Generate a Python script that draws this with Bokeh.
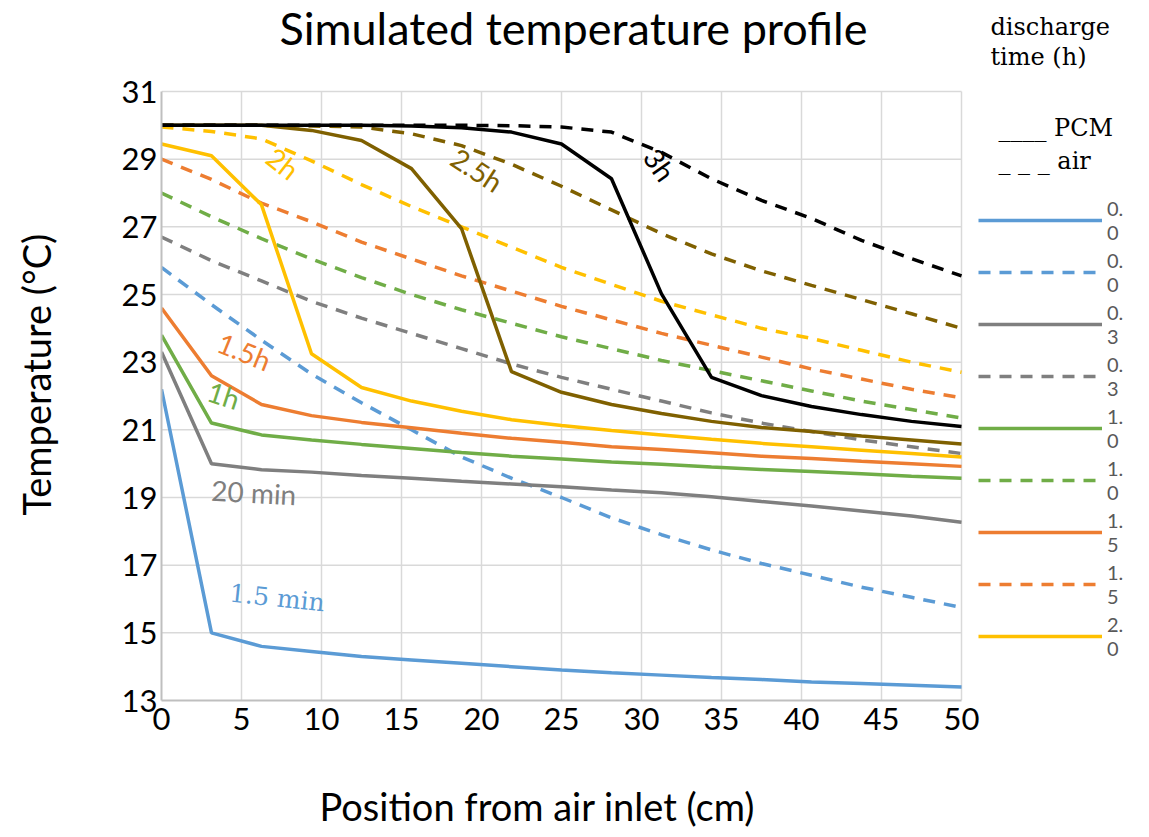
from bokeh.plotting import figure
from bokeh.models import Range1d, FixedTicker, Label, Legend, LegendItem, LinearAxis, Title
from bokeh.embed import file_html
from bokeh.resources import INLINE

# ---------------- data ----------------
position_cm = [0, 3.125, 6.25, 9.375, 12.5, 15.625, 18.75, 21.875, 25,
               28.125, 31.25, 34.375, 37.5, 40.625, 43.75, 46.875, 50]

pcm_0_0 = [22.2, 15.0, 14.6, 14.45, 14.3, 14.2, 14.1, 14.0, 13.9, 13.82, 13.75, 13.68, 13.62, 13.55, 13.5, 13.45, 13.4]
air_0_0 = [25.8, 24.7, 23.65, 22.65, 21.8, 21.0, 20.2, 19.57, 19.0, 18.4, 17.9, 17.45, 17.05, 16.7, 16.35, 16.05, 15.75]
pcm_0_3 = [23.3, 20.0, 19.82, 19.75, 19.65, 19.57, 19.48, 19.4, 19.32, 19.22, 19.14, 19.02, 18.88, 18.75, 18.6, 18.45, 18.27]
air_0_3 = [26.7, 26.0, 25.4, 24.8, 24.3, 23.85, 23.4, 22.95, 22.55, 22.2, 21.85, 21.5, 21.2, 20.95, 20.7, 20.5, 20.3]
pcm_1_0 = [23.8, 21.2, 20.85, 20.7, 20.57, 20.45, 20.33, 20.22, 20.14, 20.05, 19.98, 19.9, 19.83, 19.77, 19.7, 19.63, 19.57]
air_1_0 = [28.0, 27.3, 26.65, 26.05, 25.5, 25.0, 24.55, 24.15, 23.75, 23.4, 23.05, 22.75, 22.45, 22.15, 21.85, 21.6, 21.35]
pcm_1_5 = [24.6, 22.6, 21.75, 21.42, 21.22, 21.06, 20.9, 20.75, 20.63, 20.5, 20.42, 20.32, 20.22, 20.15, 20.07, 20.0, 19.92]
air_1_5 = [29.0, 28.4, 27.7, 27.15, 26.55, 26.05, 25.55, 25.1, 24.65, 24.25, 23.85, 23.5, 23.15, 22.8, 22.5, 22.2, 21.95]
pcm_2_0 = [29.45, 29.1, 27.65, 23.25, 22.25, 21.85, 21.55, 21.3, 21.13, 20.98, 20.85, 20.72, 20.6, 20.5, 20.4, 20.3, 20.2]
air_2_0 = [29.95, 29.82, 29.6, 28.95, 28.25, 27.6, 27.0, 26.4, 25.8, 25.3, 24.8, 24.4, 24.0, 23.7, 23.35, 23.0, 22.7]
pcm_2_5 = [30.0, 30.0, 30.0, 29.85, 29.55, 28.72, 26.95, 22.72, 22.11, 21.75, 21.48, 21.25, 21.07, 20.95, 20.82, 20.7, 20.58]
air_2_5 = [30.0, 30.0, 30.0, 29.98, 29.95, 29.75, 29.4, 28.85, 28.2, 27.5, 26.8, 26.2, 25.7, 25.27, 24.85, 24.43, 24.0]
pcm_3_0 = [30.0, 30.0, 30.0, 30.0, 30.0, 29.98, 29.93, 29.8, 29.45, 28.42, 25.02, 22.55, 22.01, 21.69, 21.45, 21.25, 21.1]
air_3_0 = [30.0, 30.0, 30.0, 30.0, 30.0, 30.0, 30.0, 29.99, 29.95, 29.8, 29.2, 28.42, 27.78, 27.25, 26.6, 26.06, 25.55]

series_names = ["0.\n0", "0.\n0", "0.\n3", "0.\n3", "1.\n0", "1.\n0", "1.\n5", "1.\n5", "2.\n0", "2.\n0", "2.\n5", "2.\n5", "3.\n0", "3.\n0"]
series_values = [pcm_0_0, air_0_0, pcm_0_3, air_0_3, pcm_1_0, air_1_0, pcm_1_5, air_1_5,
                 pcm_2_0, air_2_0, pcm_2_5, air_2_5, pcm_3_0, air_3_0]
series_colors = ["#5B9BD5", "#5B9BD5", "#7F7F7F", "#7F7F7F", "#70AD47", "#70AD47", "#ED7D31", "#ED7D31",
                 "#FFC000", "#FFC000", "#7F6000", "#7F6000", "#000000", "#000000"]
series_is_air = [False, True] * 7

x_ticks = [0, 5, 10, 15, 20, 25, 30, 35, 40, 45, 50]
y_ticks = [13, 15, 17, 19, 21, 23, 25, 27, 29, 31]

# curve annotations: text, x, y, angle, colour, font, size
curve_labels = [
    ("3h", 31.15, 28.84, -55, "#000000", "Lato", "28px"),
    ("2.5h", 19.73, 28.69, -33, "#7F6000", "Lato", "28px"),
    ("2h", 7.6, 28.88, -38, "#FFC000", "Lato", "28px"),
    ("1.5h", 5.19, 23.32, -22, "#ED7D31", "Lato", "28px"),
    ("1h", 3.9, 22.03, -18, "#70AD47", "Lato", "28px"),
    ("20 min", 5.77, 19.16, -3, "#7F7F7F", "Lato", "28px"),
    ("1.5 min", 7.23, 16.03, -6, "#5B9BD5", "DejaVu Serif", "25px"),
]

X_MIN, X_MAX = 0, 50
Y_MIN, Y_MAX = 13, 31
PX_X = 16.0
PX_Y = 609.0 / 18.0

# ---------------- figure ----------------
# the frame extends over the top and right margins so that title and keys can sit in it
p = figure(width=1149, height=837,
           x_range=Range1d(X_MIN, X_MAX + 188 / PX_X),
           y_range=Range1d(Y_MIN, Y_MAX + 91 / PX_Y),
           output_backend="svg", toolbar_location=None,
           min_border_left=161, min_border_right=0, min_border_top=0, min_border_bottom=137)
p.outline_line_color = None
p.background_fill_color = "white"
p.border_fill_color = "white"
p.grid.visible = False

p.xaxis.ticker = FixedTicker(ticks=x_ticks)
p.yaxis.ticker = FixedTicker(ticks=y_ticks)
p.xaxis.bounds = (X_MIN, X_MAX)
p.yaxis.bounds = (Y_MIN, Y_MAX)
for ax in (p.xaxis, p.yaxis):
    ax.axis_line_color = "#BFBFBF"
    ax.axis_line_width = 2
    ax.major_tick_line_color = None
    ax.minor_tick_line_color = None
    ax.major_tick_out = 0
    ax.major_tick_in = 0
    ax.minor_tick_out = 0
    ax.minor_tick_in = 0
    ax.major_label_text_font = "Lato"
    ax.major_label_text_font_size = "31px"
    ax.major_label_text_color = "#000000"
p.xaxis.major_label_standoff = 7
p.yaxis.major_label_standoff = 4

# blank spacer axes (one white, unlabeled tick) that keep the axis titles away from the tick labels
for side, tick, gap in (("below", 25, 48), ("left", 22, 60)):
    sp = LinearAxis(ticker=FixedTicker(ticks=[tick]), axis_line_color=None,
                    major_tick_line_color="white", major_tick_line_width=1,
                    minor_tick_line_color=None,
                    major_tick_out=gap, major_tick_in=0, minor_tick_out=0, minor_tick_in=0,
                    major_label_standoff=0, major_label_overrides={tick: ""})
    p.add_layout(sp, side)

p.add_layout(Title(text="Position from air inlet (cm)", align="left", offset=158, standoff=0,
                   text_font="Lato", text_font_size="38px", text_font_style="normal",
                   text_color="#000000"), "below")
p.add_layout(Title(text="Temperature (°C)", align="left", offset=185, standoff=0,
                   text_font="Lato", text_font_size="38px", text_font_style="normal",
                   text_color="#000000"), "left")

# grid limited to the data area
p.segment(x0=x_ticks[1:], y0=[Y_MIN] * (len(x_ticks) - 1), x1=x_ticks[1:], y1=[Y_MAX] * (len(x_ticks) - 1),
          line_color="#D9D9D9", line_width=1.5)
p.segment(x0=[X_MIN] * (len(y_ticks) - 1), y0=y_ticks[1:], x1=[X_MAX] * (len(y_ticks) - 1), y1=y_ticks[1:],
          line_color="#D9D9D9", line_width=1.5)

renderers = []
for name, vals, col, air in zip(series_names, series_values, series_colors, series_is_air):
    r = p.line(position_cm, vals, line_color=col, line_width=3.5,
               line_dash="12 9" if air else "solid")
    renderers.append(r)

legend = Legend(items=[LegendItem(label=series_names[i], renderers=[renderers[i]]) for i in range(9)],
                location=(817, 40), orientation="vertical")
legend.glyph_width = 124
legend.glyph_height = 20
legend.label_standoff = 5
legend.padding = 0
legend.margin = 0
legend.spacing = 4
legend.border_line_color = None
legend.background_fill_alpha = 0
legend.label_text_font = "Lato"
legend.label_text_font_size = "20px"
legend.label_text_color = "#595959"
legend.label_text_line_height = 1.2
p.add_layout(legend, "center")

for txt, x, y, ang, col, font, size in curve_labels:
    p.add_layout(Label(x=x, y=y, text=txt, angle=ang, angle_units="deg", text_color=col,
                       text_font=font, text_font_size=size, text_align="center",
                       text_baseline="middle"))

# chart title
p.add_layout(Label(x=25.75, y=32.87, text="Simulated temperature profile", text_font="Lato",
                   text_font_size="45px", text_align="center", text_baseline="middle",
                   text_color="#000000"))

# key at top right
for txt, x, y in (("discharge", 51.81, 32.92), ("time (h)", 51.81, 32.03),
                  ("____ PCM", 52.31, 29.91), ("_ _ _ air", 52.31, 28.96)):
    p.add_layout(Label(x=x, y=y, text=txt, text_font="DejaVu Serif",
                       text_font_size="24px", text_align="left", text_baseline="middle",
                       text_color="#000000"))

open("out.html", "w").write(file_html(p, INLINE))
